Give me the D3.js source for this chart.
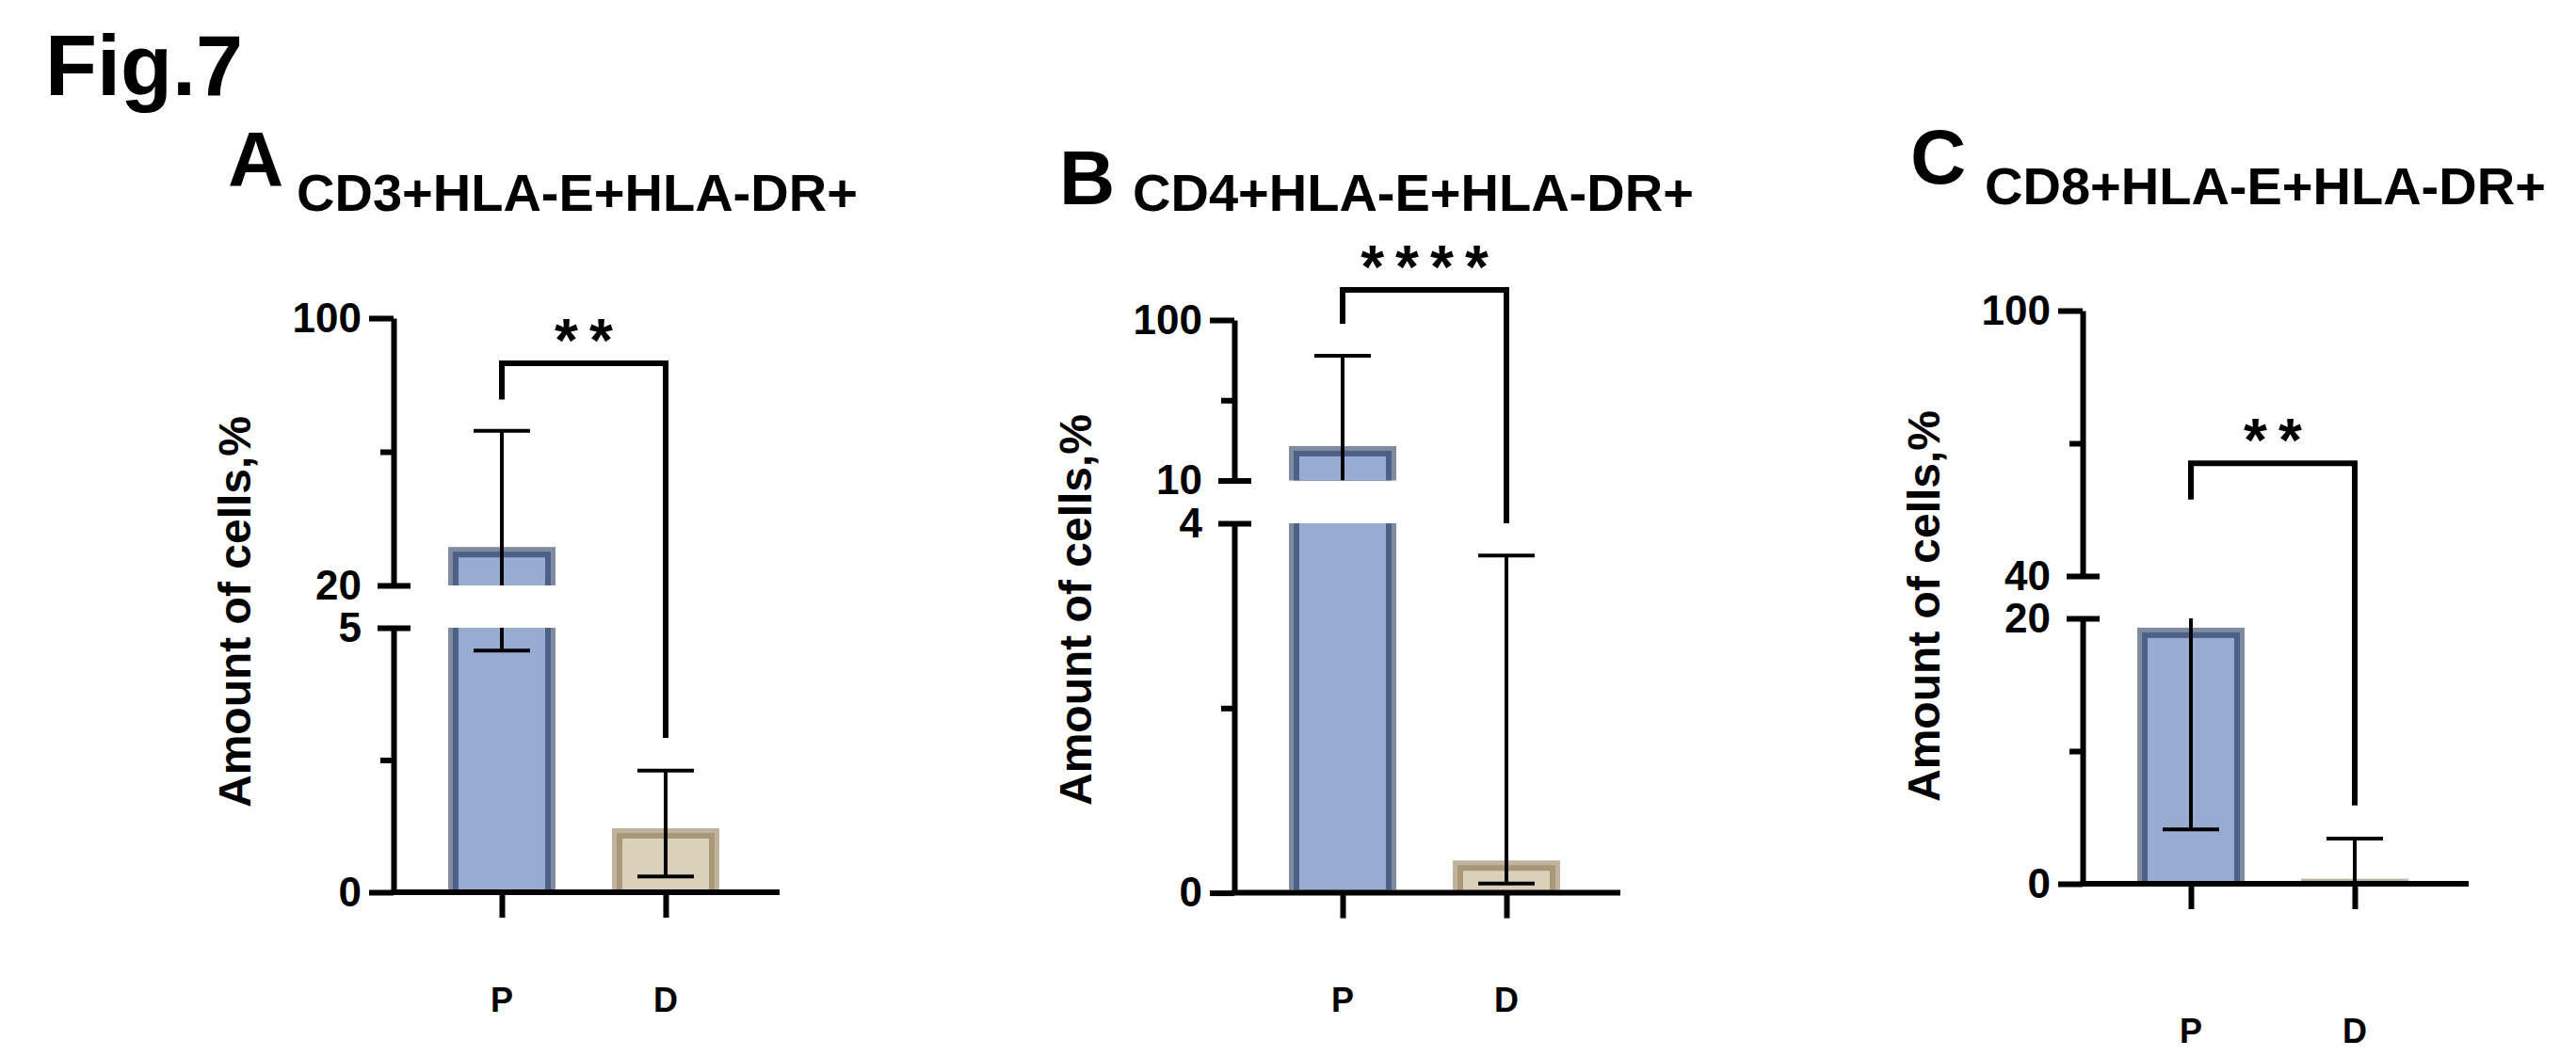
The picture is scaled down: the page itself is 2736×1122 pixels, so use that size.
<!DOCTYPE html>
<html><head><meta charset="utf-8">
<script src="https://cdn.jsdelivr.net/npm/d3@7"></script>
<style>body{margin:0;background:#fff}svg{display:block;font-family:Arial,'Liberation Sans',sans-serif;font-weight:bold}</style>
</head><body><svg id="c" width="2736" height="1122"></svg>
<script>
// ---- data ----
const categories = ["P", "D"];
const panelLetters = ["A", "B", "C"];
const panelTitles = ["CD3+HLA-E+HLA-DR+", "CD4+HLA-E+HLA-DR+", "CD8+HLA-E+HLA-DR+"];
const meanA = [31.5, 1.21], errLowA = [4.57, 0.3], errHighA = [66.3, 2.3];
const meanB = [29.3, 0.35], errLowB = [7.0, 0.1], errHighB = [80, 3.65];
const meanC = [19.3, 0.38], errLowC = [4.1, 0.0], errHighC = [50.1, 3.4];
// axis break segments: [low, high] lower part, [low, high] upper part; tick values
const lowerDomainA = [0, 5], upperDomainA = [20, 100], ticksA = [0, 2.5, 5, 20, 60, 100];
const lowerDomainB = [0, 4], upperDomainB = [10, 100], ticksB = [0, 2, 4, 10, 55, 100];
const lowerDomainC = [0, 20], upperDomainC = [40, 100], ticksC = [0, 10, 20, 40, 70, 100];
const significance = ["**", "****", "**"];
// bracket: [left end, top, right end] in data values
const bracketA = [75.6, 86.5, 2.92];
const bracketB = [97.9, 116.9, 4];
const bracketC = [57.3, 65.5, 5.9];

// ---- layout ----
const panels = [
  {mean: meanA, lo: errLowA, hi: errHighA, lower: lowerDomainA, upper: upperDomainA, ticks: ticksA, br: bracketA,
   ax: 418, y0: 948, yBreakLo: 667, yBreakHi: 622, yTop: 338, letterX: 242, letterY: 197, titleX: 315, titleY: 224, labY: 1075, ylabY: 650},
  {mean: meanB, lo: errLowB, hi: errHighB, lower: lowerDomainB, upper: upperDomainB, ticks: ticksB, br: bracketB,
   ax: 1311, y0: 948.6, yBreakLo: 556, yBreakHi: 510.5, yTop: 340, letterX: 1125, letterY: 217, titleX: 1203, titleY: 224, labY: 1075, ylabY: 648},
  {mean: meanC, lo: errLowC, hi: errHighC, lower: lowerDomainC, upper: upperDomainC, ticks: ticksC, br: bracketC,
   ax: 2212, y0: 939, yBreakLo: 657, yBreakHi: 612, yTop: 330, letterX: 2029, letterY: 195, titleX: 2108, titleY: 217, labY: 1108, ylabY: 644}
];
const barCols = [{outer: "#808ba2", inner: "#4d6086", fill: "#98abd1"}, {outer: "#bdb39f", inner: "#a89878", fill: "#dbd0ba"}];

const svg = d3.select("#c");
svg.append("text").attr("x", 48).attr("y", 101).attr("font-size", 90).text("Fig.7");

panels.forEach((p, pi) => {
  const g = svg.append("g");
  const x = d3.scalePoint().domain(categories).range([p.ax + 115, p.ax + 289]);
  const segs = [
    {dom: p.lower, s: d3.scaleLinear().domain(p.lower).range([p.y0, p.yBreakLo]), clipTop: p.yBreakLo, clipBot: p.y0 - 3},
    {dom: p.upper, s: d3.scaleLinear().domain(p.upper).range([p.yBreakHi, p.yTop]), clipTop: 0, clipBot: p.yBreakHi}
  ];
  const segOf = v => v >= p.upper[0] ? segs[1] : (v <= p.lower[1] ? segs[0] : null);
  const Y = v => segOf(v) ? segOf(v).s(v) : null;

  g.append("text").attr("x", p.letterX).attr("y", p.letterY).attr("font-size", 82).text(panelLetters[pi]);
  g.append("text").attr("x", p.titleX).attr("y", p.titleY).attr("font-size", 56).text(panelTitles[pi]);
  g.append("text").attr("transform", `translate(${p.ax - 152},${p.ylabY}) rotate(-90)`)
    .attr("text-anchor", "middle").attr("font-size", 48).text("Amount of cells,%");

  segs.forEach((sg, si) => {
    const id = `clip${pi}_${si}`;
    g.append("clipPath").attr("id", id).append("rect")
      .attr("x", p.ax).attr("y", sg.clipTop).attr("width", 500).attr("height", sg.clipBot - sg.clipTop);
    const cg = g.append("g").attr("clip-path", `url(#${id})`);
    categories.forEach((c, i) => {
      const v = p.mean[i];
      if (v <= sg.dom[0]) return;
      const top = sg.s(v), bot = sg.s(sg.dom[0]) + 14, cx = x(c), col = barCols[i];
      [[57, col.outer], [52, col.inner], [46, col.fill]].forEach(([hw, f], k) => {
        const inset = [0, 5, 11][k];
        cg.append("rect").attr("x", cx - hw).attr("width", 2 * hw)
          .attr("y", top + inset).attr("height", Math.max(0, bot - top - inset)).attr("fill", f);
      });
      // error bar
      const eLo = Math.max(p.lo[i], sg.dom[0]);
      const eHi = p.hi[i];
      if (eHi > sg.dom[0] && p.lo[i] < (si === 1 ? 1e9 : sg.dom[1])) {
        cg.append("line").attr("x1", cx).attr("x2", cx).attr("y1", sg.s(eLo)).attr("y2", sg.s(eHi))
          .attr("stroke", "#000").attr("stroke-width", 4);
      }
      [p.lo[i], p.hi[i]].forEach(ev => {
        if (ev >= sg.dom[0] && ev <= sg.dom[1]) {
          cg.append("line").attr("x1", cx - 30).attr("x2", cx + 30).attr("y1", sg.s(ev)).attr("y2", sg.s(ev))
            .attr("stroke", "#000").attr("stroke-width", 4);
        }
      });
    });
    // y axis segment
    const tv = p.ticks.filter(t => t >= sg.dom[0] && t <= sg.dom[1]);
    const axis = d3.axisLeft(sg.s).tickValues(tv).tickSize(26).tickSizeOuter(0).tickPadding(8)
      .tickFormat(t => (t === sg.dom[0] || t === sg.dom[1]) ? t : "");
    const ag = g.append("g").attr("transform", `translate(${p.ax},0)`).call(axis);
    ag.select(".domain").attr("stroke-width", 6).attr("stroke", "#000");
    ag.selectAll(".tick line").attr("stroke-width", 6).attr("stroke", "#000")
      .each(function(t) {
        const ln = d3.select(this);
        const isBreak = (si === 0 && t === sg.dom[1]) || (si === 1 && t === sg.dom[0]);
        if (isBreak) ln.attr("x1", 18).attr("x2", -17);
        else if (t !== sg.dom[0] && t !== sg.dom[1]) ln.attr("x2", -14);
      });
    ag.selectAll(".tick text").attr("font-size", 44).attr("font-family", "Arial,'Liberation Sans',sans-serif")
      .attr("font-weight", "bold").attr("fill", "#000");
  });

  // x axis
  const xg = g.append("g").attr("transform", `translate(0,${p.y0})`)
    .call(d3.axisBottom(x).tickSize(27).tickSizeOuter(0).tickFormat(""));
  xg.select(".domain").remove();
  xg.selectAll(".tick line").attr("stroke-width", 6).attr("stroke", "#000");
  g.append("line").attr("x1", p.ax - 3).attr("x2", p.ax + 410).attr("y1", p.y0).attr("y2", p.y0)
    .attr("stroke", "#000").attr("stroke-width", 6);
  categories.forEach(c => g.append("text").attr("x", x(c)).attr("y", p.labY).attr("text-anchor", "middle")
    .attr("font-size", 36).text(c));

  // significance bracket
  const ySc = v => (v >= p.upper[0] ? segs[1].s(v) : segs[0].s(v));
  const [bl, bt, brr] = p.br;
  const xl = x("P"), xr = x("D"), yt = segs[1].s(bt);
  g.append("path").attr("d", `M${xl},${ySc(bl)}V${yt}H${xr}V${ySc(brr)}`)
    .attr("fill", "none").attr("stroke", "#000").attr("stroke-width", 6);
  g.append("text").attr("x", (xl + xr) / 2 + 6).attr("y", yt - 2).attr("text-anchor", "middle")
    .attr("font-size", 64).attr("letter-spacing", 12).text(significance[pi]);
});
</script></body></html>
